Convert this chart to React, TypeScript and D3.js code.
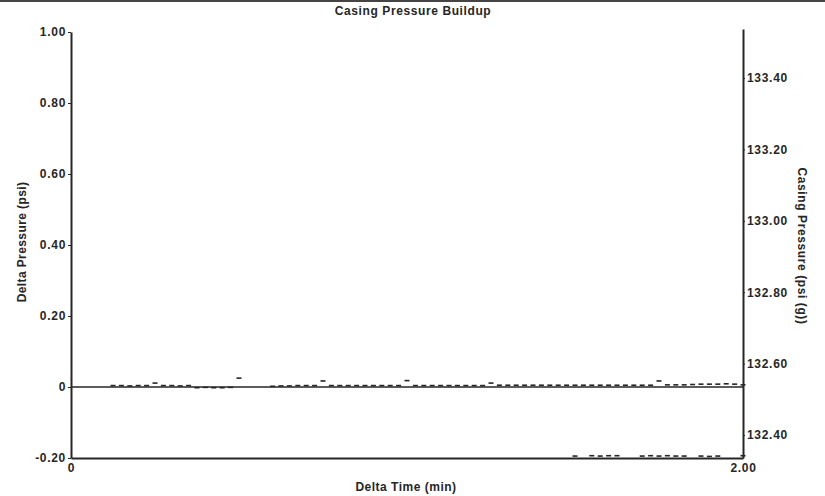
import { useEffect, useRef } from "react";
import * as d3 from "d3";

// ---------- Data ----------

const TITLE = "Casing Pressure Buildup";
const X_LABEL = "Delta Time (min)";
const Y_LEFT_LABEL = "Delta Pressure (psi)";
const Y_RIGHT_LABEL = "Casing Pressure (psi (g))";

const X_TICKS = [0, 2.0];
const X_TICK_LABELS = ["0", "2.00"];
const LEFT_TICKS = [-0.2, 0, 0.2, 0.4, 0.6, 0.8, 1.0];
const LEFT_TICK_LABELS = ["-0.20", "0", "0.20", "0.40", "0.60", "0.80", "1.00"];
const RIGHT_TICKS = [132.4, 132.6, 132.8, 133.0, 133.2, 133.4];
const RIGHT_TICK_LABELS = ["132.40", "132.60", "132.80", "133.00", "133.20", "133.40"];

// Delta pressure (psi) vs delta time (min)
const deltaTime = [
  0.125, 0.15, 0.175, 0.2, 0.225, 0.25, 0.275, 0.3, 0.325, 0.35,
  0.375, 0.4, 0.425, 0.45, 0.475, 0.5,
  0.6, 0.625, 0.65, 0.675, 0.7, 0.725, 0.75,
  0.775, 0.8, 0.825, 0.85, 0.875, 0.9, 0.925, 0.95, 0.975, 1.0,
  1.025, 1.05, 1.075, 1.1, 1.125, 1.15, 1.175, 1.2, 1.225, 1.25,
  1.275, 1.3, 1.325, 1.35, 1.375, 1.4, 1.425, 1.45, 1.475, 1.5,
  1.525, 1.55, 1.575, 1.6, 1.625, 1.65, 1.675, 1.7, 1.725, 1.75,
  1.775, 1.8, 1.825, 1.85, 1.875, 1.9, 1.925, 1.95, 1.975, 2.0,
];
const deltaPressure = [
  0.004, 0.004, 0.003, 0.004, 0.004, 0.011, 0.004, 0.004, 0.003, 0.004,
  -0.002, -0.001, -0.002, -0.002, -0.001, 0.025,
  0.002, 0.003, 0.003, 0.004, 0.004, 0.004, 0.017,
  0.004, 0.004, 0.004, 0.004, 0.004, 0.004, 0.004, 0.004, 0.004, 0.018,
  0.004, 0.004, 0.004, 0.004, 0.004, 0.004, 0.004, 0.004, 0.004, 0.011,
  0.005, 0.005, 0.005, 0.005, 0.005, 0.005, 0.005, 0.005, 0.005, 0.005,
  0.005, 0.005, 0.005, 0.005, 0.005, 0.005, 0.005, 0.005, 0.005, 0.017,
  0.006, 0.006, 0.006, 0.007, 0.008, 0.008, 0.008, 0.009, 0.008, 0.006,
];

// Casing pressure (psi (g)) vs delta time (min)
const casingTime = [
  1.5, 1.55, 1.575, 1.6, 1.625, 1.7, 1.725, 1.75, 1.775, 1.8, 1.825,
  1.875, 1.9, 1.925, 2.0,
];
const casingPressure = [
  132.341, 132.342, 132.341, 132.342, 132.342, 132.341, 132.342, 132.341,
  132.342, 132.341, 132.341, 132.341, 132.340, 132.341, 132.342,
];

const WIDTH = 825;
const HEIGHT = 496;
const PLOT = { left: 71, right: 743, top: 31, bottom: 458 };
const INK = "#262626";
const FONT = "'Liberation Sans', Arial, sans-serif";

export default function App() {
  const svgRef = useRef<SVGSVGElement | null>(null);

  useEffect(() => {
    if (!svgRef.current) return;
    const svg = d3.select(svgRef.current);
    svg.selectAll("*").remove();

    const x = d3.scaleLinear().domain([0, 2]).range([PLOT.left, PLOT.right]);
    const yL = d3.scaleLinear().domain([-0.2, 1.0]).range([PLOT.bottom, 32]);
    const yR = d3
      .scaleLinear()
      .domain([132.4, 133.4])
      .range([435, 78]);

    svg.append("rect").attr("width", WIDTH).attr("height", HEIGHT).attr("fill", "#fff");
    // top border strip
    svg.append("rect").attr("x", 0).attr("y", 0).attr("width", WIDTH).attr("height", 2).attr("fill", "#444");

    // Title
    svg
      .append("text")
      .attr("x", 413)
      .attr("y", 15)
      .attr("text-anchor", "middle")
      .attr("font-size", 12)
      .attr("font-weight", "bold")
      .attr("letter-spacing", 0.6)
      .attr("fill", INK)
      .text(TITLE);

    const styleAxis = (g: d3.Selection<SVGGElement, unknown, null, undefined>) => {
      g.attr("font-family", FONT).attr("font-size", 12).attr("font-weight", "bold");
      g.select(".domain").attr("stroke", INK).attr("stroke-width", 2);
      g.selectAll(".tick line").attr("stroke", INK).attr("stroke-width", 1);
      g.selectAll(".tick text").attr("fill", INK).attr("letter-spacing", 0.7);
    };

    // Zero line
    svg
      .append("line")
      .attr("x1", PLOT.left)
      .attr("x2", PLOT.right)
      .attr("y1", yL(0))
      .attr("y2", yL(0))
      .attr("stroke", INK)
      .attr("stroke-width", 1.5);

    // Bottom axis
    svg
      .append("g")
      .attr("transform", `translate(0,${PLOT.bottom})`)
      .call(
        d3
          .axisBottom(x)
          .tickValues(X_TICKS)
          .tickSize(0)
          .tickPadding(5)
          .tickFormat((_d, i) => X_TICK_LABELS[i])
      )
      .call(styleAxis);

    // Left axis
    svg
      .append("g")
      .attr("transform", `translate(${PLOT.left},0)`)
      .call(
        d3
          .axisLeft(yL)
          .tickValues(LEFT_TICKS)
          .tickSize(3)
          .tickSizeOuter(0)
          .tickPadding(2)
          .tickFormat((_d, i) => LEFT_TICK_LABELS[i])
      )
      .call(styleAxis);

    // Right axis (drawn over full plot height)
    const yRFull = yR.copy().domain([yR.invert(PLOT.bottom), yR.invert(29)]).range([PLOT.bottom, 29]);
    svg
      .append("g")
      .attr("transform", `translate(${PLOT.right},0)`)
      .call(
        d3
          .axisRight(yRFull)
          .tickValues(RIGHT_TICKS)
          .tickSize(2)
          .tickSizeOuter(0)
          .tickPadding(2)
          .tickFormat((_d, i) => RIGHT_TICK_LABELS[i])
      )
      .call(styleAxis);

    // Axis titles
    svg
      .append("text")
      .attr("x", 406)
      .attr("y", 491)
      .attr("text-anchor", "middle")
      .attr("font-size", 12)
      .attr("font-weight", "bold")
      .attr("letter-spacing", 0.5)
      .attr("fill", INK)
      .text(X_LABEL);

    svg
      .append("text")
      .attr("transform", "translate(26,242) rotate(-90)")
      .attr("text-anchor", "middle")
      .attr("font-size", 12)
      .attr("font-weight", "bold")
      .attr("letter-spacing", 0.4)
      .attr("fill", INK)
      .text(Y_LEFT_LABEL);

    svg
      .append("text")
      .attr("transform", "translate(798,246) rotate(90)")
      .attr("text-anchor", "middle")
      .attr("font-size", 12)
      .attr("font-weight", "bold")
      .attr("letter-spacing", 0.6)
      .attr("fill", INK)
      .text(Y_RIGHT_LABEL);

    // Delta pressure markers (short dashes)
    svg
      .append("g")
      .selectAll("rect")
      .data(deltaTime.map((t, i) => [t, deltaPressure[i]] as [number, number]))
      .join("rect")
      .attr("x", (d) => x(d[0]) - 2.5)
      .attr("y", (d) => yL(d[1]) - 0.8)
      .attr("width", 5)
      .attr("height", 1.6)
      .attr("fill", INK);

    // Casing pressure markers
    svg
      .append("g")
      .selectAll("rect")
      .data(casingTime.map((t, i) => [t, casingPressure[i]] as [number, number]))
      .join("rect")
      .attr("x", (d) => x(d[0]) - 2.5)
      .attr("y", (d) => yR(d[1]) - 0.8)
      .attr("width", 5)
      .attr("height", 1.6)
      .attr("fill", INK);
  }, []);

  return (
    <svg
      ref={svgRef}
      width={WIDTH}
      height={HEIGHT}
      style={{ position: "absolute", left: 0, top: 0, fontFamily: FONT }}
      fontFamily={FONT}
    />
  );
}
